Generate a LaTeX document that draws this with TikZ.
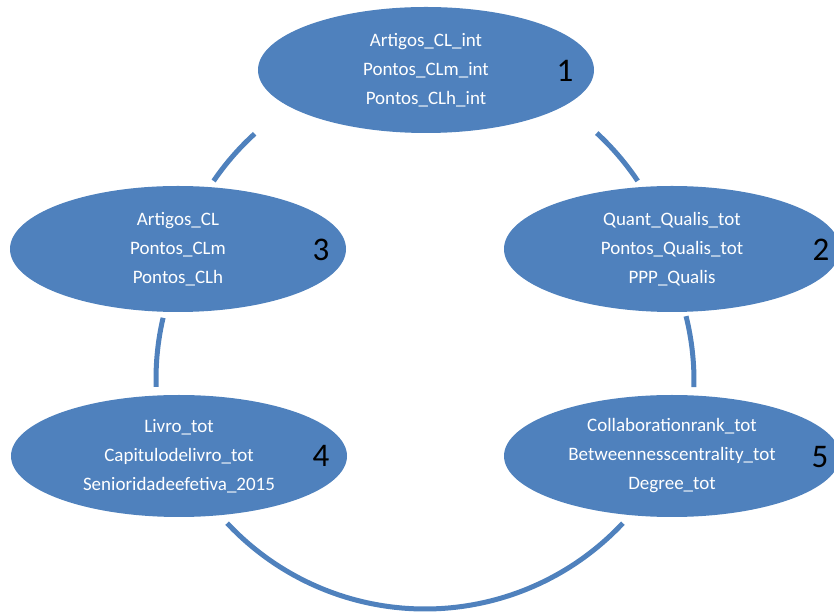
\documentclass[tikz,border=0pt]{standalone}
\usepackage{fontspec}
\setmainfont{Carlito}
\usetikzlibrary{shapes.geometric,positioning}
\definecolor{accent}{HTML}{4F81BD}
\tikzset{
  blob/.style={ellipse,fill=accent,draw=none,inner sep=0pt,text=white,align=center,font=\fontsize{19}{29}\selectfont},
  tag/.style={font=\fontsize{33}{40}\selectfont,text=black,inner sep=0pt},
  link/.style={draw=accent,line width=5pt}
}

\begin{document}
\begin{tikzpicture}[
    x=1pt,y=1pt,
    upper/.style={blob,minimum width=336pt,minimum height=126pt},
    lower/.style={blob,minimum width=336pt,minimum height=122pt}
  ]
  \useasboundingbox (0,0) rectangle (834,615);

  \foreach \cx/\cy/\a/\b/\r in {435/283/132.3/145.7/268,415/285/47.3/33.8/268,
      424/236/166.8/181.7/268,426/234/14/-1.3/268,425/277/223.1/316.9/271} {
    \draw[link] ([shift={(\a:\r)}]\cx,\cy) arc[start angle=\a,end angle=\b,radius=\r];
  }

  \node[upper] (e1) at (426,545) {Artigos\_CL\_int\\Pontos\_CLm\_int\\Pontos\_CLh\_int};
  \node[upper] (e3) at (178,366) {Artigos\_CL\\Pontos\_CLm\\Pontos\_CLh};
  \node[upper] (e2) at (672,366) {Quant\_Qualis\_tot\\Pontos\_Qualis\_tot\\PPP\_Qualis};
  \node[lower] (e4) at (179,159) {Livro\_tot\\Capitulodelivro\_tot\\Senioridadeefetiva\_2015};
  \node[lower] (e5) at (672,159) {Collaborationrank\_tot\\Betweennesscentrality\_tot\\Degree\_tot};

  \node[tag] (n1) at (565,544) {1};
  \node[tag] (n2) at (821,365) {2};
  \node[tag] (n3) at (321,365) {3};
  \node[tag] (n4) at (321,159) {4};
  \node[tag] (n5) at (820,158) {5};
\end{tikzpicture}
\end{document}
